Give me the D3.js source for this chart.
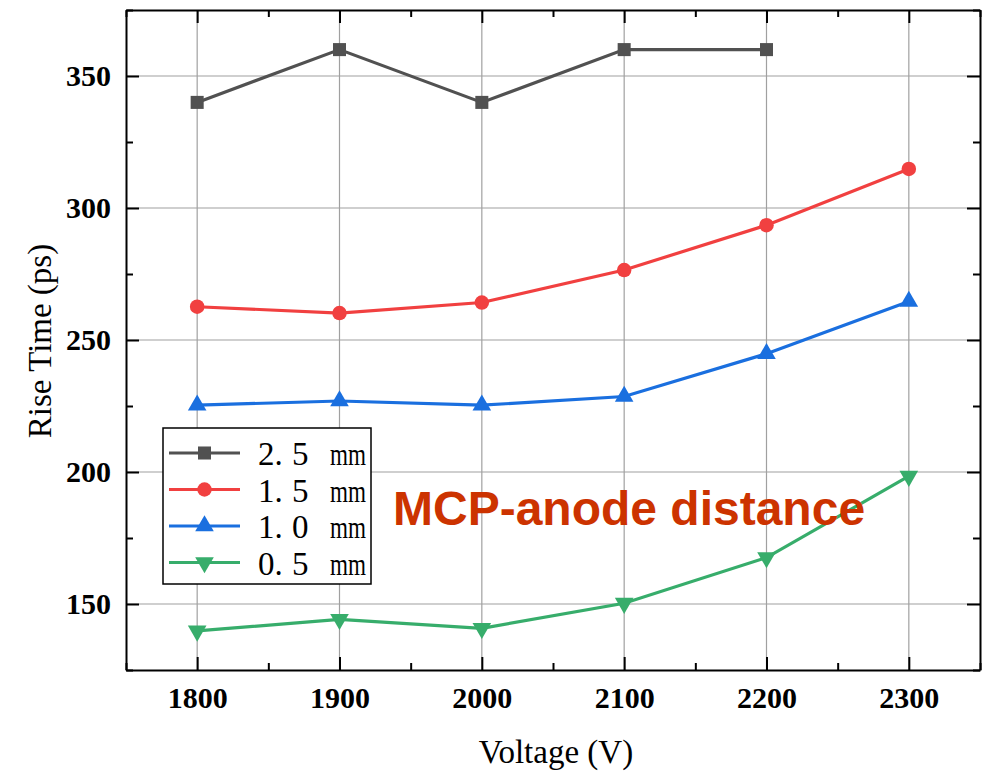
<!DOCTYPE html>
<html>
<head>
<meta charset="utf-8">
<script src="https://cdn.jsdelivr.net/npm/d3@7"></script>
<style>
  html, body { margin: 0; padding: 0; background: #fff; }
  svg { display: block; }
</style>
</head>
<body>
<div id="chart"></div>
<script>
(function () {
  'use strict';

  var voltages = [1800, 1900, 2000, 2100, 2200, 2300];
  var seriesNames = ['2.5 mm', '1.5 mm', '1.0 mm', '0.5 mm'];
  var legendNumbers = [['2.', '5'], ['1.', '5'], ['1.', '0'], ['0.', '5']];
  var rise25 = [340, 360, 340, 360, 360];
  var rise15 = [262.6, 260.2, 264.2, 276.5, 293.5, 314.8];
  var rise10 = [225.3, 226.9, 225.3, 228.6, 244.8, 264.6];
  var rise05 = [139.8, 144.2, 140.8, 150.3, 167.6, 198.4];
  var xTicks = [1800, 1900, 2000, 2100, 2200, 2300];
  var yTicks = [150, 200, 250, 300, 350];
  var colors = ['#515151', '#f14040', '#1a6fdf', '#37ad6b'];
  var symbols = ['square', 'circle', 'triangle', 'triangleDown'];

  var allSeries = [rise25, rise15, rise10, rise05].map(function (vals, i) {
    return {
      name: seriesNames[i],
      nums: legendNumbers[i],
      color: colors[i],
      symbol: symbols[i],
      points: vals.map(function (v, j) { return { x: voltages[j], y: v }; })
    };
  });

  var SERIF = '"Liberation Serif", "DejaVu Serif", serif';
  var width = 990, height = 772;
  var left = 126, right = 980, top = 10, bottom = 670;

  var svg = d3.select('#chart').append('svg')
    .attr('width', width)
    .attr('height', height);

  var x = d3.scaleLinear().domain([1750, 2350]).range([left, right]);
  var y = d3.scaleLinear().domain([125, 375]).range([bottom, top]);

  // grid
  var grid = svg.append('g').attr('stroke', '#a0a0a0').attr('stroke-width', 1.2);
  xTicks.forEach(function (t) {
    grid.append('line').attr('x1', x(t)).attr('x2', x(t)).attr('y1', top).attr('y2', bottom);
  });
  yTicks.forEach(function (t) {
    grid.append('line').attr('x1', left).attr('x2', right).attr('y1', y(t)).attr('y2', y(t));
  });

  // axes, ticks inward on all four sides
  var minorX = d3.range(1750, 2351, 50).filter(function (t) { return t % 100 !== 0; });
  var minorY = d3.range(125, 376, 25).filter(function (t) { return t % 50 !== 0; });

  function frameAxis(axisFn, scale, pos, major, minor, showLabels) {
    var g = svg.append('g').attr('transform', pos);
    g.call(axisFn(scale).tickValues(major).tickSizeInner(-13).tickSizeOuter(0)
      .tickFormat(showLabels ? d3.format('d') : ''));
    g.append('g').call(axisFn(scale).tickValues(minor).tickSizeInner(-7).tickSizeOuter(0).tickFormat(''))
      .select('.domain').remove();
    g.selectAll('.domain').attr('stroke', '#000').attr('stroke-width', 2);
    g.selectAll('.tick line').attr('stroke', '#000').attr('stroke-width', 2);
    g.attr('font-family', SERIF).attr('font-size', 30);
    g.selectAll('.tick text')
      .attr('font-weight', 'bold')
      .attr('fill', '#000');
    return g;
  }

  var xb = frameAxis(d3.axisBottom, x, 'translate(0,' + bottom + ')', xTicks, minorX, true);
  xb.selectAll('.tick text').attr('dy', 0).attr('y', 38);
  frameAxis(d3.axisTop, x, 'translate(0,' + top + ')', xTicks, minorX, false);
  var yl = frameAxis(d3.axisLeft, y, 'translate(' + left + ',0)', yTicks, minorY, true);
  yl.selectAll('.tick text').attr('x', -15).attr('dy', '0.32em');
  frameAxis(d3.axisRight, y, 'translate(' + right + ',0)', yTicks, minorY, false);

  // axis titles
  svg.append('text')
    .attr('x', 556)
    .attr('y', 763)
    .attr('text-anchor', 'middle')
    .attr('font-family', SERIF)
    .attr('font-size', 33)
    .text('Voltage (V)');

  svg.append('text')
    .attr('transform', 'translate(51,341) rotate(-90)')
    .attr('text-anchor', 'middle')
    .attr('font-family', SERIF)
    .attr('font-size', 33)
    .text('Rise Time (ps)');

  var symbolTypes = {
    square: d3.symbolSquare,
    circle: d3.symbolCircle,
    triangle: d3.symbolTriangle,
    triangleDown: d3.symbolTriangle
  };
  var symbolSizes = { square: 170, circle: 165, triangle: 150, triangleDown: 150 };

  function symbolPath(s) {
    return d3.symbol().type(symbolTypes[s]).size(symbolSizes[s])();
  }
  function symbolRot(s) { return s === 'triangleDown' ? ' rotate(180)' : ''; }

  var line = d3.line().x(function (d) { return x(d.x); }).y(function (d) { return y(d.y); });

  allSeries.forEach(function (s) {
    svg.append('path')
      .datum(s.points)
      .attr('d', line)
      .attr('fill', 'none')
      .attr('stroke', s.color)
      .attr('stroke-width', 3.2);
    svg.append('g').selectAll('path')
      .data(s.points)
      .enter()
      .append('path')
      .attr('d', symbolPath(s.symbol))
      .attr('transform', function (d) {
        return 'translate(' + x(d.x) + ',' + y(d.y) + ')' + symbolRot(s.symbol);
      })
      .attr('fill', s.color);
  });

  // legend
  var lg = svg.append('g');
  lg.append('rect')
    .attr('x', 163).attr('y', 428).attr('width', 208).attr('height', 156)
    .attr('fill', '#fff').attr('stroke', '#000').attr('stroke-width', 1.5);
  allSeries.forEach(function (s, i) {
    var cy = 453 + i * 36.5;
    lg.append('line')
      .attr('x1', 169).attr('x2', 240).attr('y1', cy).attr('y2', cy)
      .attr('stroke', s.color).attr('stroke-width', 3.2);
    lg.append('path')
      .attr('d', symbolPath(s.symbol))
      .attr('transform', 'translate(204.5,' + cy + ')' + symbolRot(s.symbol))
      .attr('fill', s.color);
    var t = lg.append('g').attr('font-family', SERIF).attr('fill', '#000');
    t.append('text').attr('x', 258).attr('y', cy + 12).attr('font-size', 33).text(s.nums[0]);
    t.append('text').attr('x', 292).attr('y', cy + 12).attr('font-size', 33).text(s.nums[1]);
    t.append('text').attr('x', 330).attr('y', cy + 12).attr('font-size', 31)
      .attr('textLength', 36).attr('lengthAdjust', 'spacingAndGlyphs').text('mm');
  });

  // annotation
  svg.append('text')
    .attr('x', 393).attr('y', 525)
    .attr('font-family', '"Liberation Sans", Arial, sans-serif')
    .attr('font-weight', 'bold')
    .attr('font-size', 48)
    .attr('fill', '#cc3300')
    .text('MCP-anode distance');
})();
</script>
</body>
</html>
